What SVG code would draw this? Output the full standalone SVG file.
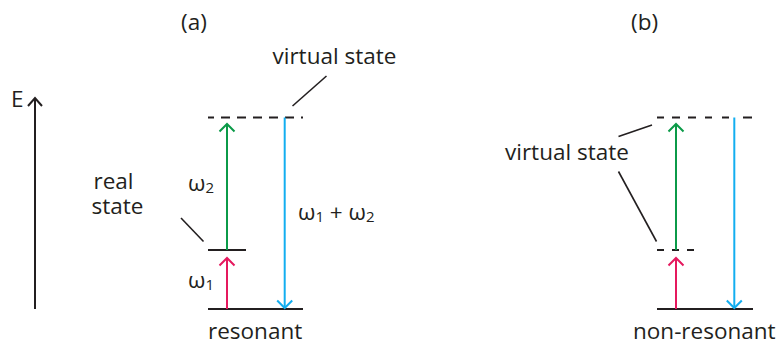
<svg xmlns="http://www.w3.org/2000/svg" width="777" height="345" viewBox="0 0 777 345">
<style>
text{font-family:"Open Sans","Liberation Sans",sans-serif;font-size:22.5px;fill:#231f20}
.sub{font-size:15px}
.lvl{stroke:#231f20;stroke-width:2;fill:none}
.dash{stroke:#231f20;stroke-width:2;fill:none}
.lead{stroke:#231f20;stroke-width:1.6;fill:none}
.g{stroke:#0b9a48;stroke-width:2;fill:none}
.r{stroke:#e5195e;stroke-width:2;fill:none}
.b{stroke:#13aef0;stroke-width:2;fill:none}
.k{stroke:#231f20;stroke-width:2;fill:none}
</style>
<g id="axis">
<line class="k" x1="35" y1="309" x2="35" y2="98"/>
<polyline class="k" points="28,106 35,98 42,106"/>
<text x="11" y="106.5">E</text>
</g>
<g id="label-a"><text x="181" y="30">(a)</text></g>
<g id="label-b"><text x="631" y="30">(b)</text></g>
<g id="a-levels">
<line class="lvl" x1="208" y1="309" x2="303" y2="309"/>
<line class="lvl" x1="208" y1="250" x2="246" y2="250"/>
<line class="dash" x1="208" y1="117.5" x2="303" y2="117.5" stroke-dasharray="6 7 9 7 9 7 9 7 9 7 9 7 9"/>
</g>
<g id="b-levels">
<line class="lvl" x1="657" y1="309" x2="753" y2="309"/>
<line class="dash" x1="657" y1="250" x2="695" y2="250" stroke-dasharray="7 8"/>
<line class="dash" x1="657" y1="117.5" x2="753" y2="117.5" stroke-dasharray="7 8 8 8 8 9 7 10 7 14 9"/>
</g>
<g id="connectors">
<line class="r" x1="227" y1="309" x2="227" y2="258"/>
<polyline class="r" points="219.5,265.5 227,258 234.5,265.5"/>
<line class="g" x1="227" y1="250" x2="227" y2="124"/>
<polyline class="g" points="219.5,131.5 227,124 234.5,131.5"/>
<line class="b" x1="284.7" y1="117.5" x2="284.7" y2="308"/>
<polyline class="b" points="277.2,300.5 284.7,308 292.2,300.5"/>
<line class="r" x1="676" y1="309" x2="676" y2="258"/>
<polyline class="r" points="668.5,265.5 676,258 683.5,265.5"/>
<line class="g" x1="676" y1="250" x2="676" y2="124"/>
<polyline class="g" points="668.5,131.5 676,124 683.5,131.5"/>
<line class="b" x1="734.3" y1="117.5" x2="734.3" y2="308"/>
<polyline class="b" points="726.8,300.5 734.3,308 741.8,300.5"/>
<line class="lead" x1="292.5" y1="106" x2="326.5" y2="76"/>
<line class="lead" x1="181" y1="218" x2="203.5" y2="241.5"/>
<line class="lead" x1="618.5" y1="136.5" x2="652" y2="125"/>
<line class="lead" x1="618.5" y1="171.5" x2="656.5" y2="241.5"/>
</g>
<g id="a-texts">
<text x="272.5" y="64">virtual state</text>
<text><tspan x="93.5" y="189">real</tspan><tspan x="91.5" y="214">state</tspan></text>
<text x="188" y="191">ω<tspan class="sub" dy="2">2</tspan></text>
<text x="188" y="288">ω<tspan class="sub" dy="2">1</tspan></text>
<text x="298" y="220">ω<tspan class="sub" dy="2">1</tspan><tspan dy="-2"> + ω</tspan><tspan class="sub" dy="2">2</tspan></text>
<text x="208" y="339">resonant</text>
</g>
<g id="b-texts">
<text x="505" y="160">virtual state</text>
<text x="633" y="339">non-resonant</text>
</g>
</svg>
